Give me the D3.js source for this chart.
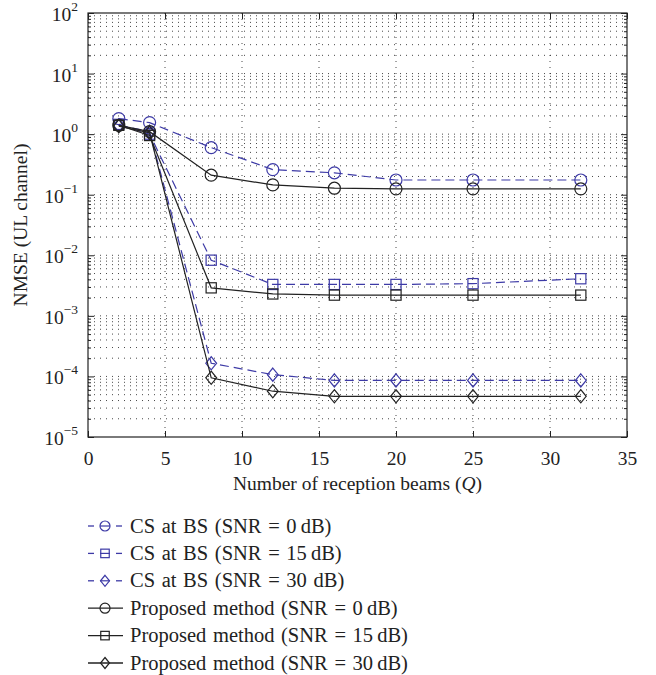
<!DOCTYPE html>
<html>
<head>
<meta charset="utf-8">
<script src="https://cdn.jsdelivr.net/npm/d3@7"></script>
<style>
  body { margin: 0; background: #fff; }
  svg text { font-family: "Liberation Serif", "Times New Roman", serif; fill: #222; }
</style>
</head>
<body>
<div id="chart"></div>
<script>
// number of reception beams Q
var beams = [2, 4, 8, 12, 16, 20, 25, 32];

// NMSE values
var csSnr0    = [1.8, 1.55, 0.6, 0.26, 0.23, 0.175, 0.175, 0.175];
var csSnr15   = [1.45, 1.0, 0.0083, 0.0033, 0.0033, 0.0033, 0.0034, 0.0041];
var csSnr30   = [1.4, 1.1, 1.65e-4, 1.07e-4, 8.6e-5, 8.6e-5, 8.6e-5, 8.6e-5];
var propSnr0  = [1.4, 1.1, 0.21, 0.145, 0.128, 0.125, 0.125, 0.125];
var propSnr15 = [1.4, 0.95, 0.0029, 0.0023, 0.0022, 0.0022, 0.0022, 0.0022];
var propSnr30 = [1.35, 1.05, 9.5e-5, 5.7e-5, 4.7e-5, 4.7e-5, 4.7e-5, 4.7e-5];

var seriesNames = [
  "CS at BS (SNR = 0\u2009dB)",
  "CS at BS (SNR = 15\u2009dB)",
  "CS at BS (SNR = 30 dB)",
  "Proposed method (SNR = 0\u2009dB)",
  "Proposed method (SNR = 15\u2009dB)",
  "Proposed method (SNR = 30\u2009dB)"
];

var xTicks = [0, 5, 10, 15, 20, 25, 30, 35];
var yExponents = [-5, -4, -3, -2, -1, 0, 1, 2];

var blue = "#3d3aa6", black = "#222";

var series = [
  {name: seriesNames[0], values: csSnr0,    color: blue,  dash: "9,5", marker: "circle"},
  {name: seriesNames[1], values: csSnr15,   color: blue,  dash: "9,5", marker: "square"},
  {name: seriesNames[2], values: csSnr30,   color: blue,  dash: "9,5", marker: "diamond"},
  {name: seriesNames[3], values: propSnr0,  color: black, dash: null,  marker: "circle"},
  {name: seriesNames[4], values: propSnr15, color: black, dash: null,  marker: "square"},
  {name: seriesNames[5], values: propSnr30, color: black, dash: null,  marker: "diamond"}
];

var margin = {top: 13, left: 88, right: 29, bottom: 238},
    width = 656,
    height = 675,
    plotW = width - margin.left - margin.right,
    plotH = height - margin.top - margin.bottom;

var svg = d3.select("#chart")
    .append("svg")
    .attr("width", width)
    .attr("height", height);

var g = svg.append("g")
    .attr("transform", "translate(" + margin.left + "," + margin.top + ")");

var x = d3.scaleLinear().domain([0, 35]).range([0, plotW]);
var y = d3.scaleLog().domain([1e-5, 1e2]).range([plotH, 0]);

var majors = yExponents.map(e => Math.pow(10, e));
var minors = [];
yExponents.slice(0, -1).forEach(function(e) {
  for (var k = 2; k <= 9; k++) minors.push(k * Math.pow(10, e));
});

// grid, dotted
var grid = g.append("g").attr("stroke", "#333").attr("stroke-width", 0.9)
    .attr("stroke-dasharray", "1,5");
grid.selectAll(".hg")
    .data(majors.slice(1, -1).concat(minors))
    .enter().append("line")
    .attr("x1", 0).attr("x2", plotW)
    .attr("y1", d => y(d)).attr("y2", d => y(d));
grid.selectAll(".vg")
    .data(xTicks.slice(1, -1))
    .enter().append("line")
    .attr("y1", 0).attr("y2", plotH)
    .attr("x1", d => x(d)).attr("x2", d => x(d));

// axes with inward ticks
function styleAxis(sel) {
  sel.select(".domain").remove();
  sel.selectAll("line").attr("stroke", "#222");
}

g.append("g").attr("transform", "translate(0," + plotH + ")")
  .call(d3.axisBottom(x).tickValues(xTicks).tickSizeInner(-6).tickSizeOuter(0).tickPadding(14))
  .call(styleAxis)
  .selectAll("text").attr("font-size", 19.5).attr("font-family", "Liberation Serif, serif").attr("fill", "#222");

g.append("g")
  .call(d3.axisTop(x).tickValues(xTicks).tickSizeInner(-6).tickSizeOuter(0).tickFormat(""))
  .call(styleAxis);

g.append("g")
  .call(d3.axisLeft(y).tickValues(majors).tickSizeInner(-6).tickSizeOuter(0).tickFormat(""))
  .call(styleAxis);
g.append("g")
  .call(d3.axisLeft(y).tickValues(minors).tickSizeInner(-3).tickSizeOuter(0).tickFormat(""))
  .call(styleAxis);
g.append("g").attr("transform", "translate(" + plotW + ",0)")
  .call(d3.axisRight(y).tickValues(majors).tickSizeInner(-6).tickSizeOuter(0).tickFormat(""))
  .call(styleAxis);
g.append("g").attr("transform", "translate(" + plotW + ",0)")
  .call(d3.axisRight(y).tickValues(minors).tickSizeInner(-3).tickSizeOuter(0).tickFormat(""))
  .call(styleAxis);

// y tick labels as 10^n
var yLab = g.append("g").selectAll("text")
    .data(yExponents)
    .enter().append("text")
    .attr("x", -10)
    .attr("y", e => y(Math.pow(10, e)) + 8)
    .attr("text-anchor", "end")
    .attr("font-size", 19.5);
yLab.append("tspan").text("10");
yLab.append("tspan")
    .attr("dy", -10)
    .attr("font-size", 13.5)
    .text(e => e < 0 ? "\u2212" + (-e) : String(e));

// frame
g.append("rect")
  .attr("width", plotW).attr("height", plotH)
  .attr("fill", "none").attr("stroke", "#222").attr("stroke-width", 1.2);

// axis titles
svg.append("text")
  .attr("x", margin.left + plotW / 2)
  .attr("y", 490)
  .attr("text-anchor", "middle")
  .attr("font-size", 19.5)
  .html("Number of reception beams (<tspan font-style='italic'>Q</tspan>)");

svg.append("text")
  .attr("transform", "translate(27," + (margin.top + plotH / 2) + ") rotate(-90)")
  .attr("text-anchor", "middle")
  .attr("font-size", 19.5)
  .text("NMSE (UL channel)");

// markers
function drawMarker(sel, type, size) {
  if (type === "circle") {
    sel.append("circle").attr("r", size);
  } else if (type === "square") {
    sel.append("rect").attr("x", -size * 0.85).attr("y", -size * 0.85)
      .attr("width", size * 1.7).attr("height", size * 1.7);
  } else {
    sel.append("path").attr("d", "M0," + (-size * 1.1) + "L" + (size * 0.9) + ",0L0," + (size * 1.1) + "L" + (-size * 0.9) + ",0Z");
  }
}

var line = d3.line()
    .x((d, i) => x(beams[i]))
    .y(d => y(d));

series.forEach(function(s) {
  var sg = g.append("g");
  sg.append("path")
    .datum(s.values)
    .attr("d", line)
    .attr("fill", "none")
    .attr("stroke", s.color)
    .attr("stroke-width", 1.2)
    .attr("stroke-dasharray", s.dash);
  s.values.forEach(function(v, i) {
    var m = sg.append("g")
      .attr("transform", "translate(" + x(beams[i]) + "," + y(v) + ")")
      .attr("fill", "none").attr("stroke", s.color).attr("stroke-width", 1.2);
    drawMarker(m, s.marker, 6);
  });
});

// legend
var legend = svg.append("g");
series.forEach(function(s, i) {
  var ly = 526 + i * 27.4;
  var row = legend.append("g").attr("transform", "translate(0," + ly + ")");
  if (s.dash) {
    row.append("line").attr("x1", 88).attr("x2", 94).attr("stroke", s.color).attr("stroke-width", 1.3);
    row.append("line").attr("x1", 116).attr("x2", 122).attr("stroke", s.color).attr("stroke-width", 1.3);
  } else {
    row.append("line").attr("x1", 88).attr("x2", 123).attr("stroke", s.color).attr("stroke-width", 1.3);
  }
  var m = row.append("g").attr("transform", "translate(105,0)")
    .attr("fill", "none").attr("stroke", s.color).attr("stroke-width", 1.2);
  drawMarker(m, s.marker, 5);
  if (s.dash) {
    m.append("line").attr("x1", -5).attr("x2", 5);
  }
  row.append("text")
    .attr("x", 130)
    .attr("y", 6.5)
    .attr("font-size", 20.5)
    .attr("word-spacing", 1.5)
    .text(s.name);
});
</script>
</body>
</html>
